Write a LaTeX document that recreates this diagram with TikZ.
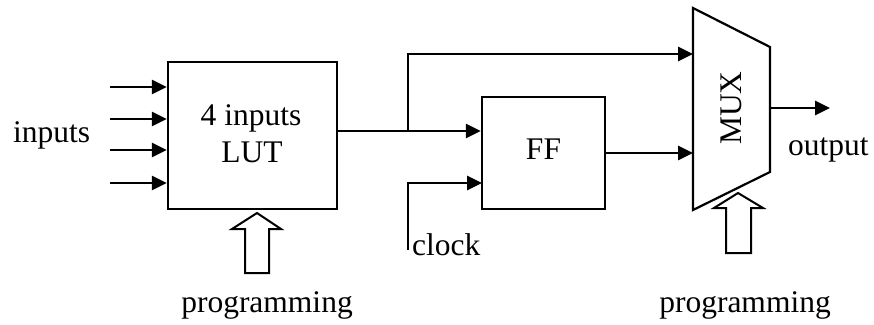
\documentclass[tikz,border=0pt]{standalone}
\usepackage{fontspec}
\setmainfont{Liberation Serif}
\usetikzlibrary{arrows.meta}
\begin{document}
\begin{tikzpicture}[x=1pt,y=-1pt,
  lbl/.style={font=\fontsize{31.5}{37}\selectfont, inner sep=0pt},
  blk/.style={draw, line width=2.2pt, inner sep=0pt},
  wire/.style={line width=2.8pt},
  arr/.style={wire, -{Triangle[length=15pt,width=14pt]}},
  hollow/.style={draw, line width=2pt, line join=miter, fill=white}]
\useasboundingbox (0,0) rectangle (874,324);

% blocks
\node[blk, minimum width=169pt, minimum height=147pt] (lut) at (252.5,135.5) {};
\node[lbl, anchor=base] (lut1) at (251,125) {4 inputs};
\node[lbl, anchor=base] (lut2) at (252,162) {LUT};
\node[blk, minimum width=123pt, minimum height=112pt] (ff) at (543.5,153) {};
\node[lbl, anchor=base] (fftext) at (543.5,159) {FF};

% MUX trapezoid
\coordinate (m1) at (693,8);
\coordinate (m2) at (770,47);
\coordinate (m3) at (770,172);
\coordinate (m4) at (693,210);
\draw[line width=2.2pt, line join=miter] (m1) -- (m2) -- (m3) -- (m4) -- cycle;
\node[lbl, rotate=90] (muxtext) at (731,108) {MUX};
\coordinate (muxin1) at (693,54);
\coordinate (muxin2) at (693,153);
\coordinate (muxout) at (770,108);
\coordinate (outend) at (830,108);

% inputs
\foreach \i/\y in {1/87,2/119,3/150,4/183}{
  \coordinate (in\i) at (110,\y);
  \draw[arr] (in\i) -- (lut.west |- in\i);
}
\node[lbl, anchor=base west] (inputs) at (13,142) {inputs};

% LUT output
\coordinate (split) at (408,131);
\draw[arr] (lut.east |- split) -- (ff.west |- split);
\draw[arr] (split) |- (muxin1);

% clock
\coordinate (clk) at (408,250);
\coordinate (ffclk) at (482,183);
\draw[arr] (clk) |- (ffclk);
\node[lbl, anchor=base west] (clock) at (412,255) {clock};

% FF to MUX
\draw[arr] (ff.east |- muxin2) -- (muxin2);

% MUX output
\draw[arr] (muxout) -- (outend);
\node[lbl, anchor=base west] (output) at (788,155) {output};

% programming arrows
\draw[hollow] (257,213) -- (281,229) -- (269,229) -- (269,273) -- (245,273) -- (245,229) -- (232,229) -- cycle;
\node[lbl, anchor=base] (prog1) at (267,312) {programming};
\draw[hollow] (738,193) -- (763,208) -- (751,208) -- (751,253) -- (726,253) -- (726,208) -- (714,208) -- cycle;
\node[lbl, anchor=base] (prog2) at (745,312) {programming};
\end{tikzpicture}
\end{document}
